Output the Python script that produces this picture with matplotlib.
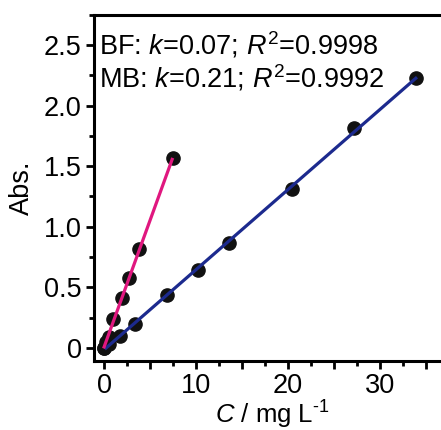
import numpy as np
import matplotlib
matplotlib.use("Agg")
import matplotlib.pyplot as plt
from matplotlib.ticker import MultipleLocator, FuncFormatter

plt.rcParams['font.family'] = ['Liberation Sans', 'DejaVu Sans']
plt.rcParams['mathtext.fontset'] = 'custom'
plt.rcParams['mathtext.rm'] = 'Liberation Sans'
plt.rcParams['mathtext.it'] = 'Liberation Sans:italic'

# BF (k = 0.07)
bf_c = [0, 0.5, 1.7, 3.4, 6.8, 10.2, 13.6, 20.4, 27.2, 33.9]
bf_abs = [0.0, 0.03, 0.095, 0.20, 0.44, 0.645, 0.865, 1.31, 1.815, 2.225]
# MB (k = 0.21)
mb_c = [0, 0.25, 0.5, 1.0, 1.9, 2.7, 3.8, 7.5]
mb_abs = [0.0, 0.05, 0.09, 0.24, 0.415, 0.575, 0.815, 1.565]

labels = ['BF: $k$=0.07; $R^2$=0.9998', 'MB: $k$=0.21; $R^2$=0.9992']

fig = plt.figure(figsize=(4.41, 4.30), dpi=100)
ax = fig.add_axes([94/441, 69.5/430, 1.02 - 94/441, 0.804])

# fitted lines
p = np.polyfit(bf_c, bf_abs, 1)
xx = np.array([0.2, bf_c[-1]])
ax.plot(xx, np.polyval(p, xx), color='#1c2a8e', lw=2.3, zorder=3)
p2 = np.polyfit(mb_c, mb_abs, 1)
xx2 = np.array([0.0, mb_c[-1] - 0.1])
ax.plot(xx2, np.polyval(p2, xx2), color='#e0177f', lw=2.3, zorder=3)

ax.plot(bf_c, bf_abs, 'o', color='#111111', ms=9.5, zorder=2)
ax.plot(mb_c, mb_abs, 'o', color='#111111', ms=9.5, zorder=2)

ax.set_xlim(-1.1, 37.6)
ax.set_ylim(-0.105, 2.75)

ax.xaxis.set_major_locator(MultipleLocator(5))
ax.xaxis.set_minor_locator(MultipleLocator(2.5))
ax.xaxis.set_major_formatter(FuncFormatter(lambda v, pos: '%d' % v if abs(v % 10) < 1e-6 else ''))
ax.yaxis.set_major_locator(MultipleLocator(0.5))
ax.yaxis.set_minor_locator(MultipleLocator(0.25))
ax.yaxis.set_major_formatter(FuncFormatter(lambda v, pos: '0' if abs(v) < 1e-6 else '%.1f' % v))

for s in ax.spines.values():
    s.set_linewidth(2.2)
ax.tick_params(which='major', length=6, width=2, labelsize=19.5, direction='out', pad=3)
ax.tick_params(which='minor', length=3.5, width=2, direction='out')

ax.set_xlabel('$C$ / mg L$^{\\text{-}1}$', fontsize=18.5, labelpad=0)
ax.set_ylabel('Abs.', fontsize=19.5, labelpad=6)

ax.text(0.015, 0.884, labels[0], transform=ax.transAxes, fontsize=19.5, va='baseline', ha='left')
ax.text(0.015, 0.789, labels[1], transform=ax.transAxes, fontsize=19.5, va='baseline', ha='left')

fig.savefig('out.png', dpi=100)
